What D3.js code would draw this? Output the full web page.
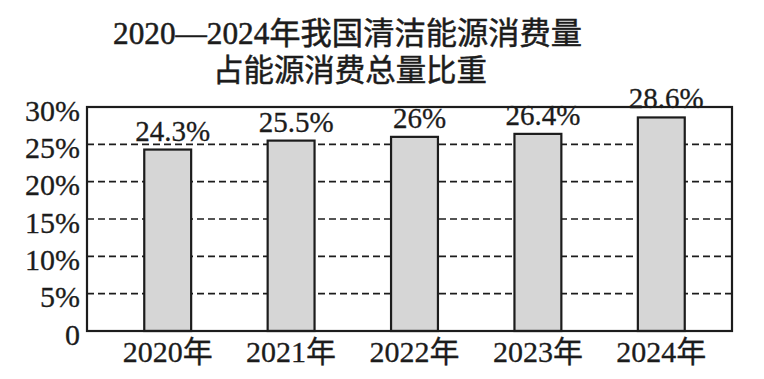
<!DOCTYPE html>
<html>
<head>
<meta charset="utf-8">
<script src="https://cdn.jsdelivr.net/npm/d3@7/dist/d3.min.js"></script>
<style>
  html, body { margin: 0; padding: 0; background: #fff; }
  svg { display: block; }
</style>
</head>
<body>
<svg id="chart" width="764" height="379"></svg>
<script>
// ---- data ----
const categories = ["2020年", "2021年", "2022年", "2023年", "2024年"];
const shares = [24.3, 25.5, 26, 26.4, 28.6];
const yTicks = [0, 5, 10, 15, 20, 25, 30];
const titleLines = ["2020—2024年我国清洁能源消费量", "占能源消费总量比重"];

// ---- layout ----
const W = 764, H = 379;
const plot = { left: 87, right: 732, top: 107, bottom: 331 };
const ink = "#1c1c1c";
const serif = "'Liberation Serif', 'Times New Roman', 'Noto Sans CJK SC', serif";

const svg = d3.select("#chart");

const x = d3.scaleBand()
  .domain(categories)
  .range([106, 723])
  .paddingInner(0.62)
  .paddingOuter(0.31);

const y = d3.scaleLinear()
  .domain([0, 30])
  .range([plot.bottom, plot.top]);

// title
const titleG = svg.append("g")
  .attr("font-family", serif)
  .attr("fill", ink)
  .attr("stroke", ink)
  .attr("stroke-width", 0.5);
titleG.append("text")
  .attr("x", 113).attr("y", 44)
  .attr("font-size", 31)
  .attr("textLength", 469).attr("lengthAdjust", "spacingAndGlyphs")
  .text(titleLines[0]);
titleG.append("text")
  .attr("x", 213).attr("y", 81)
  .attr("font-size", 31)
  .attr("textLength", 274).attr("lengthAdjust", "spacingAndGlyphs")
  .text(titleLines[1]);

// dashed grid lines
svg.append("g")
  .selectAll("line")
  .data(yTicks.filter(t => t > 0 && t < 30))
  .join("line")
  .attr("x1", plot.left).attr("x2", plot.right)
  .attr("y1", d => y(d)).attr("y2", d => y(d))
  .attr("stroke", ink)
  .attr("stroke-width", 1.6)
  .attr("stroke-dasharray", "7,4");

// bars
svg.append("g")
  .selectAll("rect")
  .data(shares)
  .join("rect")
  .attr("x", (d, i) => x(categories[i]))
  .attr("y", d => y(d))
  .attr("width", x.bandwidth())
  .attr("height", d => y(0) - y(d))
  .attr("fill", "#d6d6d6")
  .attr("stroke", ink)
  .attr("stroke-width", 2.2);

// frame
svg.append("rect")
  .attr("x", plot.left).attr("y", plot.top)
  .attr("width", plot.right - plot.left)
  .attr("height", plot.bottom - plot.top)
  .attr("fill", "none")
  .attr("stroke", ink)
  .attr("stroke-width", 2.2);

// y axis labels
const yAxis = d3.axisLeft(y)
  .tickValues(yTicks)
  .tickSize(0)
  .tickPadding(7)
  .tickFormat(d => d === 0 ? "0" : d + "%");
const yg = svg.append("g")
  .attr("transform", `translate(${plot.left},0)`)
  .call(yAxis);
yg.select(".domain").remove();
yg.selectAll("text")
  .attr("font-family", serif)
  .attr("font-size", 30)
  .attr("fill", ink)
  .attr("stroke", ink)
  .attr("stroke-width", 0.3)
  .attr("dy", null)
  .attr("y", 13);

// x axis labels
const xAxis = d3.axisBottom(x).tickSize(0).tickPadding(0);
const xg = svg.append("g")
  .attr("transform", `translate(0,${plot.bottom})`)
  .call(xAxis);
xg.select(".domain").remove();
xg.selectAll("text")
  .attr("font-family", serif)
  .attr("font-size", 30)
  .attr("fill", ink)
  .attr("stroke", ink)
  .attr("stroke-width", 0.3)
  .attr("dy", null)
  .attr("y", 31);

// value labels
svg.append("g")
  .selectAll("text")
  .data(shares)
  .join("text")
  .attr("x", (d, i) => x(categories[i]) + x.bandwidth() / 2 + 5)
  .attr("y", d => y(d) - 9)
  .attr("text-anchor", "middle")
  .attr("font-family", serif)
  .attr("font-size", 29)
  .attr("fill", ink)
  .attr("stroke", ink)
  .attr("stroke-width", 0.3)
  .text(d => d + "%");
</script>
</body>
</html>
